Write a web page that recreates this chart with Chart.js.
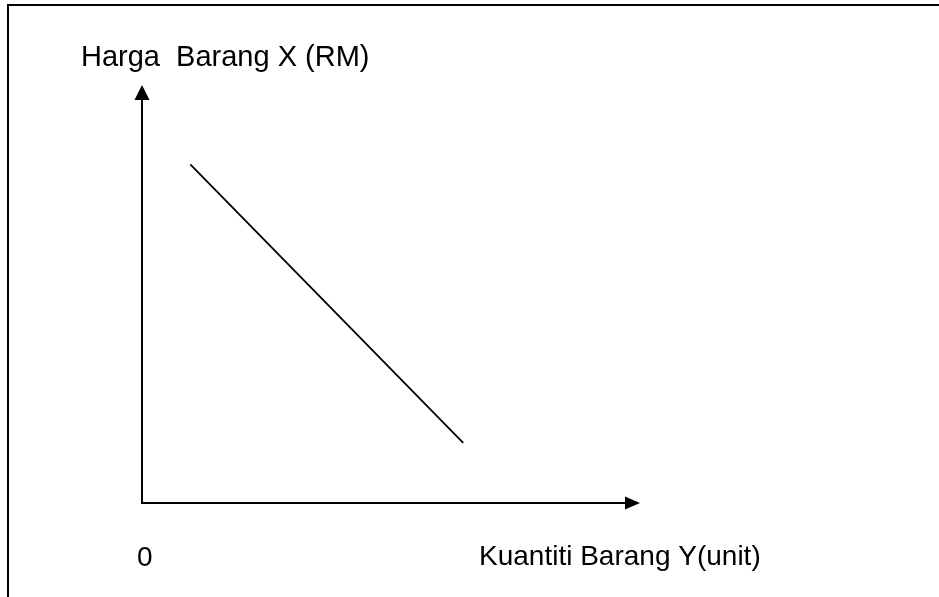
<!DOCTYPE html>
<html>
<head>
<meta charset="utf-8">
<script src="https://cdn.jsdelivr.net/npm/chart.js@4"></script>
<style>
    body { margin: 0; background: #fff; }
    canvas { display: block; }
</style>
</head>
<body>
<canvas id="demandChart" width="939" height="597"></canvas>
<script>
// axis range (no tick numbers shown, only the origin "0")
const xRange = [0, 10];
const yRange = [0, 10];

// the downward sloping line, two end points
const lineX = [0.97, 6.45];
const lineY = [8.1, 1.44];

const yAxisLabel = 'Harga  Barang X (RM)';
const xAxisLabel = 'Kuantiti Barang Y(unit)';
const originLabel = '0';

const framePlugin = {
    id: 'frame',
    afterDraw(chart) {
        let ctx = chart.ctx;
        let xs = chart.scales.x;
        let ys = chart.scales.y;
        let ox = xs.getPixelForValue(xRange[0]);
        let oy = ys.getPixelForValue(yRange[0]);
        let xEnd = xs.getPixelForValue(xRange[1]);
        let yEnd = ys.getPixelForValue(yRange[1]);
        ctx.save();

        // outer frame
        ctx.strokeStyle = '#000';
        ctx.lineWidth = 2;
        ctx.strokeRect(8, 5, 1000, 1000);

        // axes
        ctx.beginPath();
        ctx.moveTo(ox, yEnd + 10);
        ctx.lineTo(ox, oy);
        ctx.lineTo(xEnd - 10, oy);
        ctx.stroke();

        // arrow heads
        ctx.fillStyle = '#000';
        ctx.beginPath();
        ctx.moveTo(ox, yEnd);
        ctx.lineTo(ox - 7.5, yEnd + 15);
        ctx.lineTo(ox + 7.5, yEnd + 15);
        ctx.closePath();
        ctx.fill();
        ctx.beginPath();
        ctx.moveTo(xEnd, oy);
        ctx.lineTo(xEnd - 15, oy - 6.5);
        ctx.lineTo(xEnd - 15, oy + 6.5);
        ctx.closePath();
        ctx.fill();

        // labels
        ctx.textBaseline = 'alphabetic';
        ctx.textAlign = 'left';
        ctx.font = '29px "Liberation Sans", Arial, sans-serif';
        ctx.fillText(yAxisLabel, 81, 66);
        ctx.font = '28px "Liberation Sans", Arial, sans-serif';
        ctx.fillText(originLabel, 137, 566);
        ctx.fillText(xAxisLabel, 479, 565);
        ctx.restore();
    }
};

const data = {
    datasets: [{
            label: 'Permintaan',
            data: lineX.map((x, i) => ({x: x, y: lineY[i]})),
            showLine: true,
            borderColor: '#000',
            borderWidth: 1.8,
            pointRadius: 0,
            fill: false
        }]
};

const config = {
    type: 'scatter',
    data: data,
    options: {
        responsive: false,
        animation: false,
        layout: {
            padding: {left: 142, right: 299, top: 85, bottom: 94}
        },
        plugins: {
            legend: {display: false},
            tooltip: {enabled: false}
        },
        scales: {
            x: {
                display: false,
                min: xRange[0],
                max: xRange[1]
            },
            y: {
                display: false,
                min: yRange[0],
                max: yRange[1]
            }
        }
    },
    plugins: [framePlugin]
};

let ctx = document.getElementById('demandChart').getContext('2d');
new Chart(ctx, config);
</script>
</body>
</html>
